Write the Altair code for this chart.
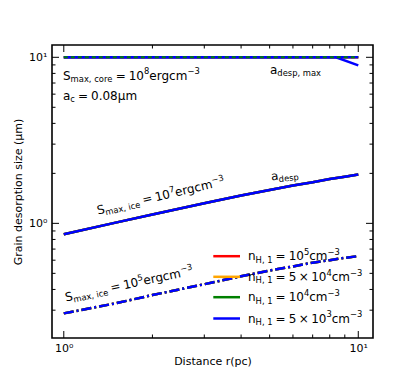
import altair as alt
import pandas as pd

# ---------------- data ----------------
r_vals = [1, 1.5, 2, 3, 4, 5, 6, 7, 8, 9, 10]
a_desp_ice7 = [0.86, 1.01, 1.13, 1.32, 1.47, 1.59, 1.69, 1.77, 1.85, 1.91, 1.97]
a_desp_ice5 = [0.287, 0.33, 0.37, 0.43, 0.48, 0.52, 0.55, 0.58, 0.60, 0.62, 0.635]
r_max = [1, 8.4, 10]
a_max_flat = [10, 10, 10]
a_max_low = [10, 10, 8.95]

series = ["nH1=1e5", "nH1=5e4", "nH1=1e4", "nH1=5e3"]
colors = ["#ff0000", "#ffa500", "#008000", "#0000ff"]

x_major = [1, 10]
x_minor = [2, 3, 4, 5, 6, 7, 8, 9]
y_major = [1, 10]
y_minor = [0.3, 0.4, 0.5, 0.6, 0.7, 0.8, 0.9, 2, 3, 4, 5, 6, 7, 8, 9]

x_title = "Distance r(pc)"
y_title = "Grain desorption size (μm)"

# mathtext-like labels: (text, kind)  kinds: n, sub, sup, rel, bin
lab_core = [("S", "n"), ("max, core", "sub"), ("=", "rel"), ("10", "n"), ("8", "sup"), ("ergcm", "n"), ("−3", "sup")]
lab_ac = [("a", "n"), ("c", "sub"), ("=", "rel"), ("0.08μm", "n")]
lab_max = [("a", "n"), ("desp, max", "sub")]
lab_ice7 = [("S", "n"), ("max, ice", "sub"), ("=", "rel"), ("10", "n"), ("7", "sup"), ("ergcm", "n"), ("−3", "sup")]
lab_desp = [("a", "n"), ("desp", "sub")]
lab_ice5 = [("S", "n"), ("max, ice", "sub"), ("=", "rel"), ("10", "n"), ("5", "sup"), ("ergcm", "n"), ("−3", "sup")]
legend_labels = [
    [("n", "n"), ("H, 1", "sub"), ("=", "rel"), ("10", "n"), ("5", "sup"), ("cm", "n"), ("−3", "sup")],
    [("n", "n"), ("H, 1", "sub"), ("=", "rel"), ("5", "n"), ("×", "bin"), ("10", "n"), ("4", "sup"), ("cm", "n"), ("−3", "sup")],
    [("n", "n"), ("H, 1", "sub"), ("=", "rel"), ("10", "n"), ("4", "sup"), ("cm", "n"), ("−3", "sup")],
    [("n", "n"), ("H, 1", "sub"), ("=", "rel"), ("5", "n"), ("×", "bin"), ("10", "n"), ("3", "sup"), ("cm", "n"), ("−3", "sup")],
]

# ---------------- layout ----------------
FONT = "DejaVu Sans"
W, H = 321, 293
xscale = alt.Scale(type="log", domain=[0.912, 11.22], nice=False)
yscale = alt.Scale(type="log", domain=[0.204, 11.86], nice=False)

XAX = alt.Axis(values=x_major, labelExpr="datum.value == 1 ? '10⁰' : '10¹'",
               ticks=False, domain=False, grid=False, labelFont=FONT, labelFontSize=11,
               labelColor="black", labelPadding=4, title=x_title, titleFont=FONT,
               titleFontSize=11, titleFontWeight="normal", titleColor="black", titlePadding=2)
YAX = alt.Axis(values=y_major, labelExpr="datum.value == 1 ? '10⁰' : '10¹'",
               ticks=False, domain=False, grid=False, labelFont=FONT, labelFontSize=11,
               labelColor="black", labelPadding=5, title=y_title, titleFont=FONT,
               titleFontSize=11, titleFontWeight="normal", titleColor="black", titlePadding=5)

ADV = {" ": 651, ",": 651, ".": 651, "(": 799, ")": 799, "=": 1716, "×": 1716, "−": 1716,
       "H": 1540, "S": 1300, "a": 1255, "c": 1126, "d": 1300, "e": 1260, "g": 1300, "i": 569,
       "m": 1995, "n": 1298, "o": 1253, "p": 1300, "r": 842, "s": 1067, "x": 1212, "μ": 1300}


def tw(s):
    return sum(ADV.get(c, 1303) for c in s) / 2048.0


dummy = pd.DataFrame({"k": [0]})


def rich(parts, x, y, size=12.0, angle=0.0):
    layers = []
    cur = 0.0
    for txt, kind in parts:
        fs = size * 0.7 if kind in ("sub", "sup") else size
        dy = 0.0
        if kind == "sub":
            dy = 0.22 * size
        elif kind == "sup":
            dy = -0.42 * size
        if kind == "rel":
            cur += 0.25 * size
        if kind == "bin":
            cur += 0.2 * size
        layers.append(
            alt.Chart(dummy)
            .mark_text(align="left", baseline="alphabetic", font=FONT, fontSize=fs,
                       angle=angle % 360, dx=cur, dy=dy, color="black")
            .encode(x=alt.value(x), y=alt.value(y), text=alt.value(txt))
        )
        cur += tw(txt) * fs
        if kind == "rel":
            cur += 0.25 * size
        if kind == "bin":
            cur += 0.2 * size
    return layers


def line(xs, ys, color, dash=None, width=2.5):
    df = pd.DataFrame({"r": xs, "a": ys})
    kw = dict(color=color, strokeWidth=width, clip=True)
    if dash:
        kw["strokeDash"] = dash
    return alt.Chart(df).mark_line(**kw).encode(
        x=alt.X("r:Q", scale=xscale, axis=XAX),
        y=alt.Y("a:Q", scale=yscale, axis=YAX),
    )


def xticks(vals, length, top):
    df = pd.DataFrame({"v": vals})
    y0 = 0 if top else H
    y1 = length if top else H - length
    return alt.Chart(df).mark_rule(color="black", strokeWidth=1).encode(
        x=alt.X("v:Q", scale=xscale, axis=XAX), y=alt.value(y0), y2=alt.value(y1))


def yticks(vals, length, right):
    df = pd.DataFrame({"v": vals})
    x0 = W if right else 0
    x1 = W - length if right else length
    return alt.Chart(df).mark_rule(color="black", strokeWidth=1).encode(
        y=alt.Y("v:Q", scale=yscale, axis=YAX), x=alt.value(x0), x2=alt.value(x1))


layers = []
# top a_desp,max curves
layers.append(line(r_max, a_max_flat, colors[0]))
layers.append(line(r_max, a_max_flat, colors[1]))
layers.append(line(r_max, a_max_flat, colors[3]))
layers.append(line(r_max, a_max_low, colors[3]))
layers.append(line(r_max, a_max_flat, colors[2], dash=[4, 3], width=2))
# S_ice = 1e7 curves (solid)
for c in colors:
    layers.append(line(r_vals, a_desp_ice7, c))
# S_ice = 1e5 curves (dash-dot)
for c in colors:
    layers.append(line(r_vals, a_desp_ice5, c, dash=[10, 3, 2, 3]))

# ticks (inward)
layers += [xticks(x_major, 7, False), xticks(x_minor, 3.5, False),
           xticks(x_major, 7, True), xticks(x_minor, 3.5, True),
           yticks(y_major, 7, False), yticks(y_minor, 3.5, False),
           yticks(y_major, 7, True), yticks(y_minor, 3.5, True)]

# annotations
layers += rich(lab_core, 11, 34.5)
layers += rich(lab_ac, 11, 54.5)
layers += rich(lab_max, 218, 28.5)
layers += rich(lab_ice7, 46, 169.5, angle=-13)
layers += rich(lab_desp, 219.5, 135.5, angle=-7)
layers += rich(lab_ice5, 14, 256.5, angle=-12)

# legend
leg_y = [211.2, 231.8, 252.2, 273.5]
for i, c in enumerate(colors):
    layers.append(
        alt.Chart(dummy).mark_rule(color=c, strokeWidth=2.5).encode(
            x=alt.value(161.3), x2=alt.value(188), y=alt.value(leg_y[i]))
    )
    layers += rich(legend_labels[i], 196, leg_y[i] + 4)

chart = (
    alt.layer(*layers)
    .properties(width=W, height=H, padding={"left": 44, "top": 37, "right": 30, "bottom": 34},
                autosize="none")
    .configure_view(stroke="black", strokeWidth=1.6)
)

chart.save("out.html", embed_options={"renderer": "svg", "actions": False})
